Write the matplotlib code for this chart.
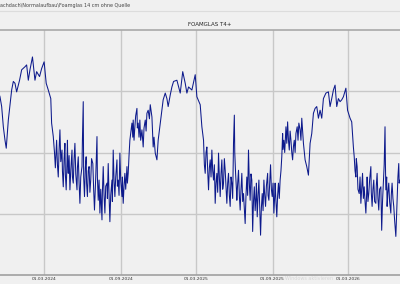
import numpy as np
import matplotlib
matplotlib.use("Agg")
import matplotlib.pyplot as plt

# (days after 01.03.2024, value), one list per season
winter_23 = [(-108, 89.5), (-106, 89.1), (-102, 87.5), (-98, 84.2), (-94, 82.0), (-91, 80.7),
             (-86, 85.3), (-78, 90.2), (-74, 91.6), (-70, 91.3), (-66, 89.9), (-59, 91.8),
             (-54, 93.5), (-46, 94.0), (-42, 94.3), (-38, 91.8), (-34, 93.5), (-28, 95.6),
             (-22, 91.8), (-18, 93.2), (-11, 92.4), (-6, 93.7), (0, 94.8), (5, 91.3),
             (10, 90.2), (16, 88.8), (18, 84.8), (22, 82.6)]
summer_24 = [(25, 79.9), (27, 77.5), (30, 82.0), (32, 78.0), (34, 76.0), (36, 80.5), (38, 83.7),
             (40, 78.5), (43, 80.4), (44, 77.0), (46, 74.4), (48, 79.0), (50, 81.5), (51, 76.5),
             (53, 73.9), (55, 78.5), (56, 82.0), (57, 78.0), (58, 76.6), (60, 79.5), (62, 73.9),
             (64, 77.0), (67, 80.4), (68, 76.0), (70, 75.0), (72, 79.0), (74, 81.5), (76, 76.5),
             (79, 73.9), (80, 77.5), (82, 79.3), (84, 75.0), (86, 71.7), (88, 76.0), (91, 77.7),
             (92, 82.0), (94, 88.3), (95, 76.0), (97, 72.8), (99, 77.5), (101, 79.3), (102, 75.0),
             (104, 72.8), (106, 77.0), (108, 77.7), (110, 73.5), (112, 75.5), (114, 79.0),
             (117, 78.2), (119, 74.0), (121, 70.6), (124, 76.0), (127, 82.6), (128, 76.0),
             (130, 72.2), (132, 75.5), (134, 70.1), (136, 74.0), (139, 69.0), (140, 73.5),
             (142, 77.7), (144, 73.0), (146, 70.1), (148, 74.5), (151, 75.0), (152, 72.5),
             (154, 78.2), (156, 73.0), (158, 68.7), (160, 73.0), (163, 75.5), (164, 72.0),
             (166, 80.4), (168, 75.5), (170, 72.8), (172, 76.0), (175, 78.8), (176, 74.5),
             (178, 75.5), (180, 73.0), (182, 79.9), (184, 75.5), (187, 72.8), (188, 76.0),
             (190, 71.7), (192, 74.5), (194, 76.6), (196, 74.0), (199, 77.7), (200, 75.0),
             (202, 76.6), (204, 79.5), (206, 82.0)]
winter_24 = [(211, 84.8), (213, 82.5), (214, 85.3), (216, 82.0), (218, 84.2), (220, 86.0),
             (223, 87.2), (224, 84.0), (226, 84.8), (228, 82.5), (230, 85.3), (232, 82.0),
             (235, 83.7), (238, 80.9), (240, 84.0), (243, 85.3), (245, 83.5), (247, 86.4),
             (250, 86.9), (253, 85.5), (255, 87.8), (259, 85.8), (262, 80.9), (264, 82.5),
             (267, 79.9), (271, 78.8), (274, 82.0), (279, 84.8), (283, 86.9), (286, 88.6),
             (291, 89.7), (295, 88.8), (298, 87.5), (303, 89.4), (307, 90.7), (311, 91.6),
             (319, 91.8), (327, 89.7), (333, 93.2), (339, 91.3), (343, 89.7), (347, 90.7),
             (355, 90.2), (363, 92.7), (367, 89.1), (375, 87.8), (379, 84.2)]
summer_25 = [(383, 82.0), (385, 78.0), (387, 76.6), (389, 80.0), (391, 80.9), (393, 77.0),
             (395, 73.9), (397, 77.5), (399, 78.8), (401, 76.0), (403, 80.4), (405, 77.0),
             (407, 75.5), (409, 78.0), (411, 71.7), (413, 75.0), (415, 76.6), (417, 73.5),
             (419, 79.9), (421, 76.0), (423, 72.8), (425, 76.5), (427, 78.8), (429, 74.0),
             (431, 75.0), (433, 79.0), (435, 77.1), (437, 74.5), (439, 71.7), (441, 75.0),
             (443, 76.6), (445, 73.0), (447, 71.2), (449, 76.0), (451, 75.0), (453, 72.5),
             (455, 81.5), (457, 86.1), (458, 80.0), (460, 76.6), (462, 74.0), (463, 72.2),
             (465, 75.0), (467, 77.1), (469, 73.0), (471, 70.6), (473, 74.0), (475, 76.6),
             (477, 72.0), (479, 73.3), (481, 71.0), (483, 68.4), (485, 73.0), (487, 76.0),
             (489, 73.0), (491, 80.4), (493, 75.0), (495, 72.2), (497, 76.5), (499, 75.5),
             (500, 71.5), (501, 67.1), (503, 72.0), (505, 74.4), (507, 70.5), (509, 72.8),
             (510, 75.0), (512, 69.5), (514, 73.0), (516, 75.5), (518, 71.0), (520, 66.5),
             (522, 71.0), (524, 73.3), (526, 70.5), (528, 75.5), (530, 73.0), (532, 71.2),
             (534, 74.5), (537, 76.6), (538, 73.0), (540, 72.2), (542, 75.0), (544, 78.0),
             (546, 74.0), (548, 72.8), (550, 75.0), (552, 70.1), (554, 73.0), (555, 75.0),
             (557, 72.0), (559, 69.5), (561, 73.0), (563, 75.0), (565, 72.5), (567, 75.5),
             (569, 77.0), (571, 79.3)]
winter_25 = [(573, 83.1), (574, 80.5), (576, 82.0), (578, 80.0), (581, 84.2), (583, 81.5),
             (585, 85.0), (587, 82.0), (589, 80.4), (591, 83.5), (593, 82.0), (595, 80.0),
             (597, 78.8), (599, 81.0), (601, 82.0), (603, 80.0), (605, 83.1), (608, 84.2),
             (610, 82.0), (612, 84.8), (615, 83.7), (617, 82.0), (619, 85.6), (623, 81.5),
             (627, 78.8), (631, 77.7), (635, 76.3), (639, 81.5), (643, 83.1), (647, 86.4),
             (651, 87.2), (655, 87.5), (659, 85.6), (663, 86.9), (667, 85.6), (671, 88.8),
             (677, 89.7), (683, 89.9), (687, 87.5), (691, 88.8), (695, 90.2), (699, 91.0),
             (703, 87.5), (707, 88.8), (711, 88.3), (715, 88.6), (719, 89.1), (725, 90.5),
             (729, 86.9), (735, 85.6), (739, 85.0), (743, 80.9)]
summer_26 = [(745, 79.3), (747, 77.0), (749, 76.0), (750, 79.0), (752, 77.7), (754, 74.0),
             (757, 73.3), (759, 76.0), (761, 71.7), (763, 74.0), (765, 76.6), (767, 72.5),
             (769, 74.4), (771, 72.0), (773, 70.1), (775, 73.5), (776, 76.0), (778, 72.0),
             (780, 73.3), (782, 75.5), (785, 77.7), (786, 73.5), (788, 71.2), (790, 74.0),
             (792, 75.5), (794, 72.0), (797, 71.7), (798, 74.5), (800, 76.6), (802, 72.5),
             (804, 70.6), (806, 74.0), (809, 74.4), (810, 71.0), (811, 67.3), (813, 72.0),
             (815, 75.0), (817, 78.0), (819, 84.2), (820, 78.0), (821, 73.9), (823, 76.0),
             (824, 71.2), (826, 73.5), (828, 75.0), (830, 72.0), (833, 70.1), (834, 73.0),
             (836, 75.0), (838, 72.5), (840, 71.2), (842, 69.0), (845, 66.3), (847, 70.0),
             (849, 73.3), (850, 76.0), (852, 78.2), (853, 75.0), (855, 75.5), (858, 74.0)]

tick_dates = ["2024-03-01", "2024-09-01", "2025-03-01", "2025-09-01", "2026-03-01"]
tick_labels = ["01.03.2024", "01.09.2024", "01.03.2025", "01.09.2025", "01.03.2026"]

bg = "#f0f0f0"
start = np.datetime64("2024-03-01")
series = np.array(winter_23 + summer_24 + winter_24 + summer_25 + winter_25 + summer_26)
dates = start + series[:, 0].astype(int).astype("timedelta64[D]")
values = series[:, 1]

fig = plt.figure(figsize=(4, 2.84), dpi=100, facecolor=bg)
ax = fig.add_axes([0, 9 / 284, 1, 245 / 284], facecolor=bg)

ax.plot(dates, values, color="#0d1a8c", lw=0.75)

ax.set_xlim(start - np.timedelta64(106, "D"), start + np.timedelta64(855, "D"))
ax.set_ylim(60, 100)
ax.set_yticks([70, 80, 90])
ax.set_xticks(np.array(tick_dates, dtype="datetime64[D]"))
ax.set_xticklabels(tick_labels)
ax.tick_params(axis="x", length=0, pad=1.5, labelsize=3.2, labelcolor="#333333")
ax.tick_params(axis="y", length=0, labelleft=False)
ax.grid(True, color="#c8c8c8", lw=1)
ax.set_axisbelow(True)
for s in ["left", "right"]:
    ax.spines[s].set_visible(False)
ax.spines["top"].set_color("#a8a8a8")
ax.spines["bottom"].set_color("#a0a0a0")
ax.spines["top"].set_linewidth(1.2)
ax.spines["bottom"].set_linewidth(1.2)

fig.text(0.5 / 400, 1 - 5 / 284, "achdach\\Normalaufbau\\Foamglas 14 cm ohne Quelle",
         ha="left", va="center", fontsize=3.5, color="#444444")
fig.add_artist(plt.Line2D([0, 1], [1 - 10.5 / 284] * 2, color="#dcdcdc", lw=0.8))
fig.text(209.5 / 400, 1 - 25 / 284, "FOAMGLAS T4+", ha="center", va="center",
         fontsize=4, color="#222222")
fig.text(333 / 400, 1 - 279 / 284, "Windows aktivieren", ha="right", va="center",
         fontsize=3.5, color="#d6d6d6")

fig.savefig("out.png", dpi=100, facecolor=bg)
